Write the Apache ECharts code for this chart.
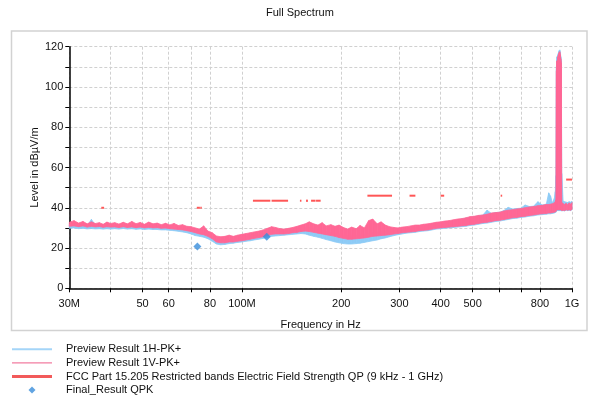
<!DOCTYPE html>
<html><head><meta charset="utf-8">
<script src="https://cdn.jsdelivr.net/npm/echarts@6/dist/echarts.min.js"></script>
<style>html,body{margin:0;padding:0;background:#fff}#c{width:592px;height:401px}</style>
</head><body><div id="c"></div>
<script>
// Frequencies in MHz
const freqMHz = [
  30, 31, 32, 33, 34, 35, 36, 37, 38, 39, 40,
  41.2, 42.4, 43.7, 45, 46.4, 47.8, 49.2, 50.7, 52.2, 53.8, 55.4, 57, 58.7, 60.5,
  62.3, 64.2, 66.1, 68.1, 70.1, 72.2,
  74.4, 76.6, 78.9, 81.3, 83.7, 86.2, 88.8, 91.5, 94.2, 97, 100,
  103, 106, 109, 112.5, 116, 119.5, 123, 126.5, 130.5, 134.5, 138.5, 142.5, 147, 151, 155.5,
  160, 165, 170, 175, 180, 186, 191.5, 197, 203, 209, 215, 222, 228, 235,
  242, 249, 257, 264, 272, 280, 289, 297, 306, 315, 325, 335, 345, 355, 366, 377, 388, 400,
  412, 424, 437, 450, 463, 477, 491, 506, 521, 537, 553, 570, 587, 604, 622, 641, 660, 680, 700, 721, 743, 765, 788, 812, 836, 850, 861, 872, 884,
  890, 894, 897, 900, 903, 906, 910, 914, 918, 922, 925, 928,
  931, 940, 950, 960, 970, 980, 990, 1000
];
// Preview Result 1V-PK+ (pink) upper / lower envelope, dBµV/m
const pinkHi = [
  32.8, 33.6, 32.4, 33.2, 32.0, 33.0, 32.2, 32.6, 31.8, 32.9, 32.2,
  32.6, 31.9, 32.8, 32.0, 33.2, 32.1, 32.7, 31.8, 32.9, 32.0, 32.4, 31.6, 32.3, 31.5,
  32.2, 31.2, 31.6, 30.8, 30.6, 30.0,
  29.4, 31.0, 28.4, 27.6, 26.0, 25.6, 25.8, 26.4, 25.8, 26.4, 26.8,
  27.2, 27.6, 28.0, 28.4, 29.0, 29.8, 30.6, 30.2, 29.6, 29.4, 29.8, 30.2, 30.8, 31.4, 32.0,
  33.0, 32.0, 31.4, 32.6, 31.0, 31.6, 30.8, 31.4, 30.2, 29.4, 30.4, 29.6, 31.2, 30.0,
  33.6, 34.4, 32.0, 33.0, 31.4, 30.6, 30.2, 30.0, 30.4, 30.6, 31.0, 31.4, 31.4, 31.8, 32.0, 32.4, 32.8, 33.0,
  33.4, 33.6, 34.0, 34.4, 34.6, 35.0, 35.6, 35.8, 36.2, 36.4, 36.8, 37.4, 37.6, 37.8, 38.4, 38.8, 39.0, 39.4, 39.6, 40.0, 40.4, 40.6, 41.0, 41.2, 41.6, 41.6, 41.8, 42.0, 42.4,
  43.0, 44.0, 108.0, 113.0, 106.0, 115.0, 116.0, 117.0, 117.5, 116.0, 114.0, 112.0,
  42.6, 42.0, 41.6, 42.2, 41.4, 42.4, 41.8, 42.6
];
const pinkLo = [
  30.8, 31.0, 30.6, 31.0, 30.4, 30.8, 30.5, 30.7, 30.3, 30.6, 30.4,
  30.5, 30.2, 30.6, 30.2, 30.5, 30.1, 30.4, 30.0, 30.3, 30.0, 30.1, 29.8, 29.9, 29.6,
  29.4, 29.2, 29.0, 28.6, 28.2, 27.6,
  27.0, 26.6, 25.8, 24.6, 23.0, 22.6, 22.6, 23.0, 23.0, 23.4, 23.6,
  24.0, 24.4, 24.8, 25.2, 25.6, 26.2, 26.8, 27.0, 27.0, 27.0, 27.2, 27.6, 27.8, 28.2, 28.4,
  28.2, 27.8, 27.4, 27.0, 26.6, 26.2, 25.8, 25.2, 24.8, 24.4, 24.4, 24.6, 24.8, 25.0,
  25.4, 25.8, 26.0, 26.2, 26.4, 26.6, 27.0, 27.2, 27.6, 27.8, 28.0, 28.2, 28.6, 28.8, 29.0, 29.4, 29.8, 30.0,
  30.2, 30.4, 30.6, 30.8, 31.0, 31.2, 31.6, 31.8, 32.2, 32.6, 32.8, 33.2, 33.6, 33.8, 34.2, 34.6, 35.0, 35.2, 35.6, 35.8, 36.2, 36.4, 36.8, 37.0, 37.2, 37.4, 37.4, 37.6, 37.8,
  38.0, 38.2, 39.0, 39.0, 39.0, 39.0, 39.0, 39.0, 39.0, 39.0, 39.0, 39.0,
  38.6, 38.8, 38.6, 39.0, 38.8, 39.0, 38.8, 39.2
];
// Preview Result 1H-PK+ (light blue) upper / lower envelope
const blueHi = [
  31.6, 32.0, 31.4, 31.8, 31.2, 34.2, 31.4, 31.3, 31.0, 31.5, 31.0,
  31.4, 31.0, 31.6, 31.0, 31.4, 31.0, 31.2, 30.8, 31.3, 30.9, 31.0, 30.6, 30.9, 30.4,
  30.6, 30.2, 30.0, 29.6, 29.2, 28.6,
  28.0, 27.6, 26.8, 25.8, 24.4, 24.0, 24.2, 24.6, 24.6, 25.0, 25.4,
  25.8, 26.2, 26.6, 27.0, 27.4, 28.0, 28.6, 28.6, 28.4, 28.4, 28.8, 29.2, 29.6, 30.0, 30.2,
  30.4, 29.6, 29.0, 28.8, 28.2, 27.8, 27.2, 27.0, 26.4, 26.0, 26.2, 26.4, 26.8, 27.0,
  27.4, 27.8, 28.0, 28.2, 28.4, 28.6, 28.8, 29.0, 29.4, 29.6, 30.0, 30.4, 30.6, 31.0, 31.4, 31.8, 32.2, 32.6,
  33.0, 33.2, 33.6, 34.0, 34.4, 34.8, 35.2, 35.6, 36.0, 36.4, 38.8, 37.2, 37.6, 37.8, 38.6, 40.2, 39.4, 39.6, 39.8, 41.4, 40.6, 40.8, 43.0, 41.4, 41.8, 47.4, 45.8, 42.4, 44.6,
  48.0, 56.0, 110.0, 115.0, 108.0, 116.0, 117.0, 118.0, 118.4, 117.0, 115.0, 113.0,
  57.0, 43.2, 43.0, 42.8, 42.6, 43.0, 42.8, 43.2
];
const blueLo = [
  29.8, 30.0, 29.6, 29.8, 29.5, 29.7, 29.5, 29.6, 29.4, 29.6, 29.4,
  29.6, 29.4, 29.7, 29.4, 29.6, 29.3, 29.5, 29.2, 29.4, 29.2, 29.2, 29.0, 29.0, 28.8,
  28.6, 28.3, 28.0, 27.6, 27.0, 26.2,
  25.8, 25.4, 24.6, 23.4, 22.0, 21.6, 21.8, 22.2, 22.4, 22.8, 23.0,
  23.4, 23.6, 24.0, 24.4, 24.8, 25.2, 25.8, 26.0, 26.2, 26.4, 26.6, 26.8, 27.0, 27.2, 27.0,
  26.4, 25.8, 25.4, 24.8, 24.2, 23.6, 23.0, 22.6, 22.2, 22.0, 22.0, 22.2, 22.4, 22.8,
  23.2, 23.6, 24.0, 24.6, 25.0, 25.6, 26.2, 26.6, 27.0, 27.4, 27.6, 27.8, 28.2, 28.4, 28.6, 29.0, 29.4, 29.6,
  29.8, 30.0, 30.2, 30.4, 30.6, 30.8, 31.2, 31.4, 31.8, 32.2, 32.4, 32.8, 33.2, 33.4, 33.8, 34.2, 34.6, 34.8, 35.2, 35.4, 35.8, 36.0, 36.4, 36.6, 36.8, 37.0, 37.0, 37.2, 37.4,
  37.6, 37.8, 38.6, 38.6, 38.6, 38.6, 38.6, 38.6, 38.6, 38.6, 38.6, 38.6,
  38.4, 38.6, 38.4, 38.8, 38.6, 38.8, 38.6, 39.0
];
// FCC Part 15.205 restricted bands (MHz) and limit level (dBµV/m)
const limitStart = [37.5, 73, 74.8, 108, 123, 149.9, 156.52475, 156.7, 162.0125, 167.72, 240, 322, 399.9, 608, 960];
const limitEnd   = [38.25, 74.6, 75.2, 121.94, 138, 150.05, 156.52525, 156.9, 167.17, 173.2, 285, 335.4, 410, 614, 1000];
const limitLevel = [40, 40, 40, 43.5, 43.5, 43.5, 43.5, 43.5, 43.5, 43.5, 46, 46, 46, 46, 54];
// Final_Result QPK
const qpkFreq = [73.3, 118.9];
const qpkLevel = [20.8, 25.6];
// Axis ticks / labels (MHz)
const tickFreqs = [30, 40, 50, 60, 70, 80, 100, 200, 300, 400, 500, 600, 700, 800, 1000];
const labelFreqs = [30, 50, 60, 80, 100, 200, 300, 400, 500, 800, 1000];
const labelTexts = ['30M', '50', '60', '80', '100M', '200', '300', '400', '500', '800', '1G'];

const lx = f => Math.log10(f);
const FONT = '"Liberation Sans", Arial, sans-serif';
const C_BLUE = '#8ecbf6', C_PINK = '#ff6795', C_RED = '#ff5656', C_DIA = '#3a8ddb';

// Band between lower and upper envelope, drawn as quads through the axis scales
function band(name, lo, hi, color, z) {
  const n = freqMHz.length;
  return {
    name, type: 'custom', silent: true, z,
    data: freqMHz.map((f, i) => [lx(f), lo[i], hi[i]]),
    encode: { x: 0, y: [1, 2] },
    renderItem: (params, api) => {
      const i = params.dataIndex;
      if (i >= n - 1) return null;
      const x0 = api.value(0), x1 = lx(freqMHz[i + 1]);
      const pts = [
        api.coord([x0, hi[i]]), api.coord([x1, hi[i + 1]]),
        api.coord([x1, lo[i + 1]]), api.coord([x0, lo[i]])
      ];
      return { type: 'polygon', shape: { points: pts },
        style: { fill: color, stroke: color, lineWidth: 0.8 } };
    }
  };
}

const names = ['Preview Result 1H-PK+', 'Preview Result 1V-PK+',
  'FCC Part 15.205 Restricted bands Electric Field Strength QP (9 kHz - 1 GHz)', 'Final_Result QPK'];

const chart = echarts.init(document.getElementById('c'), null, { renderer: 'canvas' });
chart.setOption({
  animation: false,
  backgroundColor: '#fff',
  textStyle: { fontFamily: FONT },
  title: { text: 'Full Spectrum', left: 266, top: 7, padding: 0,
    textStyle: { fontSize: 11, fontWeight: 'normal', color: '#111', fontFamily: FONT } },
  graphic: [{ type: 'rect', silent: true, z: -10,
    shape: { x: 11.5, y: 31, width: 575.5, height: 299.5 },
    style: { fill: 'none', stroke: '#d2d2d2', lineWidth: 1.5 } }],
  grid: { left: 69.3, right: 20, top: 46.7, bottom: 112.7, containLabel: false },
  xAxis: {
    type: 'value', min: lx(30), max: 3,
    name: 'Frequency in Hz', nameLocation: 'middle', nameGap: 31, nameMoveOverlap: false,
    nameTextStyle: { fontSize: 11, color: '#111', fontFamily: FONT },
    axisLine: { onZero: false, lineStyle: { color: '#000', width: 1.5 } },
    axisTick: { show: true, length: 4, customValues: tickFreqs.map(lx), lineStyle: { color: '#000' } },
    axisLabel: { customValues: labelFreqs.map(lx), margin: 10, fontSize: 11, color: '#111', fontFamily: FONT,
      formatter: v => { for (let i = 0; i < labelFreqs.length; i++) if (Math.abs(lx(labelFreqs[i]) - v) < 1e-6) return labelTexts[i]; return ''; } },
    splitLine: { show: true, lineStyle: { color: '#d0d0d0', type: [3, 2] } }
  },
  yAxis: {
    type: 'value', min: 0, max: 120, interval: 10,
    name: 'Level in dBµV/m', nameLocation: 'middle', nameGap: 29, nameMoveOverlap: false,
    nameTextStyle: { fontSize: 11, color: '#111', fontFamily: FONT },
    axisLine: { show: true, onZero: false, lineStyle: { color: '#000', width: 1.5 } },
    axisTick: { show: true, length: 4, lineStyle: { color: '#000' } },
    axisLabel: { margin: 6, fontSize: 11, color: '#111', fontFamily: FONT,
      formatter: v => (v % 20 === 0 ? String(v) : '') },
    splitLine: { show: true, lineStyle: { color: '#d0d0d0', type: [3, 2] } }
  },
  legend: {
    orient: 'vertical', left: 12, top: 343.8, padding: 0,
    itemWidth: 40, itemHeight: 7, itemGap: 2.6, symbolKeepAspect: true,
    textStyle: { fontSize: 11, color: '#111', fontFamily: FONT, padding: [0, 0, 0, 9] },
    data: [
      { name: names[0], icon: 'path://M0,0H40V2H0Z', itemStyle: { color: '#a4d5f8' } },
      { name: names[1], icon: 'path://M0,0H40V1.3H0Z', itemStyle: { color: '#f27ca0' } },
      { name: names[2], icon: 'path://M0,0H40V3H0Z', itemStyle: { color: '#f25a5a' } },
      { name: names[3], icon: 'path://M3,0L6,3L3,6L0,3Z', itemStyle: { color: C_DIA } }
    ]
  },
  series: [
    band(names[0], blueLo, blueHi, C_BLUE, 2),
    band(names[1], pinkLo, pinkHi, C_PINK, 3),
    { name: names[2], type: 'custom', silent: true, z: 4,
      itemStyle: { color: C_RED },
      data: limitStart.map((s, i) => [lx(s), lx(limitEnd[i]), limitLevel[i]]),
      encode: { x: [0, 1], y: 2 },
      renderItem: (params, api) => {
        const a = api.coord([api.value(0), api.value(2)]);
        const b = api.coord([api.value(1), api.value(2)]);
        return { type: 'rect', shape: { x: a[0], y: a[1] - 1, width: Math.max(b[0] - a[0], 1.5), height: 2 },
          style: { fill: C_RED } };
      } },
    { name: names[3], type: 'scatter', symbol: 'diamond', symbolSize: 8, silent: true, z: 5,
      itemStyle: { color: C_DIA }, data: qpkFreq.map((f, i) => [lx(f), qpkLevel[i]]) }
  ]
});
</script>
</body></html>
